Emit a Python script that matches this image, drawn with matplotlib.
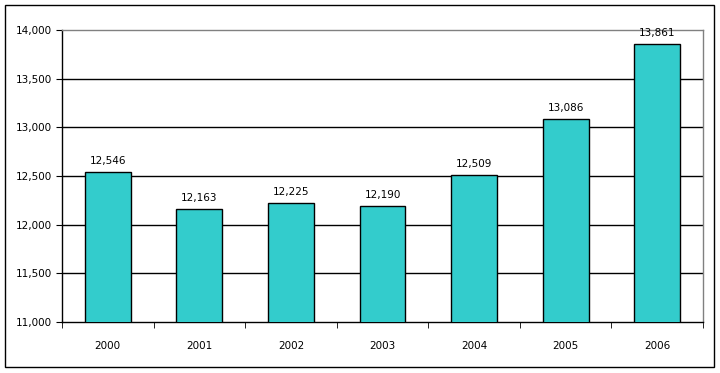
import matplotlib.pyplot as plt
from matplotlib.patches import Rectangle

# data
years = ['2000', '2001', '2002', '2003', '2004', '2005', '2006']
values = [12546, 12163, 12225, 12190, 12509, 13086, 13861]
yticks = [11000, 11500, 12000, 12500, 13000, 13500, 14000]

fig = plt.figure(figsize=(7.2, 3.73), dpi=100)
W, H = 720, 373
ax = fig.add_axes([62 / W, 1 - 322 / H, (703 - 62) / W, (322 - 30) / H])

x = range(len(years))
ax.bar(x, values, width=0.5, color='#33CCCC', edgecolor='black', linewidth=1, zorder=3)

for i, v in zip(x, values):
    ax.text(i, v + 60, f'{v:,}', ha='center', va='bottom', fontsize=7.5, zorder=4)

ax.set_xlim(-0.5, len(years) - 0.5)
ax.set_ylim(11000, 14000)
ax.set_yticks(yticks)
ax.set_yticklabels([f'{t:,}' for t in yticks], fontsize=7.5)
for t in yticks[1:-1]:
    ax.axhline(t, color='black', linewidth=1, zorder=1)

ax.set_xticks(list(x))
ax.set_xticklabels(years, fontsize=7.5)
ax.tick_params(axis='x', length=0, pad=14)
ax.set_xticks([i - 0.5 for i in range(len(years) + 1)], minor=True)
ax.tick_params(axis='x', which='minor', length=4, direction='out', color='black')
ax.tick_params(axis='y', length=4, direction='out', pad=3)

for s in ['left', 'bottom']:
    ax.spines[s].set_color('black')
    ax.spines[s].set_linewidth(1)
for s in ['top', 'right']:
    ax.spines[s].set_color('#808080')
    ax.spines[s].set_linewidth(1)

# outer border
fig.patches.append(Rectangle((5 / W, 1 - 367 / H), (714 - 5) / W, (367 - 5) / H,
                             transform=fig.transFigure, fill=False,
                             edgecolor='black', linewidth=1))

fig.savefig('out.png', dpi=100)
